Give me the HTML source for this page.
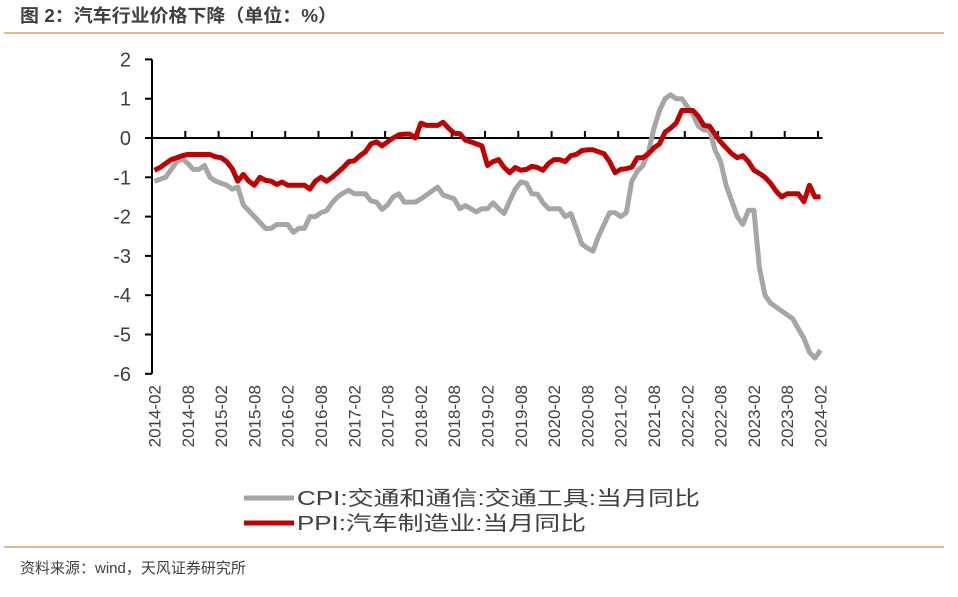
<!DOCTYPE html>
<html><head><meta charset="utf-8"><style>
body{margin:0;background:#fff;width:958px;height:592px;overflow:hidden;font-family:"Liberation Sans","Noto Sans CJK SC",sans-serif}
</style></head><body>
<svg id="chart" width="958" height="592" xmlns="http://www.w3.org/2000/svg">
<text x="20" y="22" font-size="18" font-weight="bold" fill="#404040" textLength="317" lengthAdjust="spacingAndGlyphs" font-family="Liberation Sans, Noto Sans CJK SC, sans-serif">图 2：汽车行业价格下降（单位：%）</text>
<line x1="4" y1="33" x2="944" y2="33" stroke="#d9a06c" stroke-width="1.5"/>
<line x1="4" y1="547" x2="944" y2="547" stroke="#d9a06c" stroke-width="1.5"/>
<text x="20" y="573" font-size="15" fill="#404040" font-family="Liberation Sans, Noto Sans CJK SC, sans-serif">资料来源：wind，天风证券研究所</text>
<g id="axes"></g>
<g id="series"></g>
<g>
<line x1="244" y1="498" x2="294" y2="498" stroke="#a6a6a6" stroke-width="5"/>
<text x="297" y="505" font-size="20" fill="#404040" textLength="403" lengthAdjust="spacingAndGlyphs" font-family="Liberation Sans, Noto Sans CJK SC, sans-serif">CPI:交通和通信:交通工具:当月同比</text>
<line x1="244" y1="523" x2="294" y2="523" stroke="#c00000" stroke-width="5"/>
<text x="297" y="530" font-size="20" fill="#404040" textLength="289" lengthAdjust="spacingAndGlyphs" font-family="Liberation Sans, Noto Sans CJK SC, sans-serif">PPI:汽车制造业:当月同比</text>
</g>
</svg>
<script>
const cpiValues=[-1.1,-1.05,-1.0,-0.8,-0.6,-0.53,-0.65,-0.8,-0.8,-0.7,-1.0,-1.1,-1.15,-1.2,-1.3,-1.25,-1.7,-1.85,-2.0,-2.15,-2.3,-2.3,-2.2,-2.2,-2.2,-2.4,-2.3,-2.3,-2.0,-2.0,-1.9,-1.85,-1.65,-1.5,-1.4,-1.33,-1.42,-1.42,-1.42,-1.6,-1.63,-1.82,-1.7,-1.5,-1.42,-1.63,-1.63,-1.63,-1.55,-1.45,-1.35,-1.25,-1.45,-1.5,-1.55,-1.8,-1.72,-1.8,-1.88,-1.8,-1.8,-1.65,-1.8,-1.92,-1.6,-1.3,-1.12,-1.15,-1.42,-1.43,-1.65,-1.8,-1.8,-1.8,-2.0,-1.92,-2.3,-2.7,-2.8,-2.88,-2.5,-2.2,-1.9,-1.9,-2.0,-1.9,-1.1,-0.85,-0.7,-0.35,0.25,0.7,1.0,1.1,1.0,1.0,0.8,0.6,0.3,0.2,0.2,-0.3,-0.6,-1.2,-1.6,-2.0,-2.2,-1.84,-1.84,-3.3,-4.0,-4.2,-4.3,-4.4,-4.5,-4.6,-4.85,-5.1,-5.45,-5.6,-5.4];
const ppiValues=[-0.82,-0.75,-0.65,-0.55,-0.5,-0.45,-0.42,-0.42,-0.42,-0.42,-0.42,-0.48,-0.5,-0.6,-0.78,-1.1,-0.93,-1.1,-1.2,-1.0,-1.08,-1.1,-1.18,-1.12,-1.2,-1.2,-1.2,-1.2,-1.3,-1.1,-1.0,-1.1,-1.0,-0.88,-0.75,-0.6,-0.58,-0.45,-0.35,-0.15,-0.1,-0.2,-0.1,0.0,0.08,0.1,0.1,0.0,0.38,0.32,0.32,0.32,0.4,0.25,0.12,0.11,-0.05,-0.1,-0.15,-0.2,-0.7,-0.6,-0.55,-0.75,-0.88,-0.75,-0.82,-0.8,-0.72,-0.75,-0.82,-0.65,-0.55,-0.55,-0.6,-0.45,-0.42,-0.32,-0.3,-0.3,-0.35,-0.4,-0.6,-0.88,-0.8,-0.78,-0.74,-0.5,-0.5,-0.4,-0.25,-0.15,0.15,0.25,0.38,0.7,0.7,0.7,0.55,0.32,0.3,0.1,-0.1,-0.25,-0.4,-0.5,-0.45,-0.6,-0.82,-0.9,-1.0,-1.15,-1.35,-1.5,-1.42,-1.42,-1.42,-1.62,-1.2,-1.5,-1.5];
const xTickLabels=["2014-02","2014-08","2015-02","2015-08","2016-02","2016-08","2017-02","2017-08","2018-02","2018-08","2019-02","2019-08","2020-02","2020-08","2021-02","2021-08","2022-02","2022-08","2023-02","2023-08","2024-02"];
const yTickValues=[2,1,0,-1,-2,-3,-4,-5,-6];

const NS="http://www.w3.org/2000/svg";
const x0=154.5, step=5.55, y0=138, unit=39.3;
function xScale(i){return x0+i*step;}
function yScale(v){return y0-v*unit;}
function mk(tag,attrs,parent){const e=document.createElementNS(NS,tag);for(const k in attrs)e.setAttribute(k,attrs[k]);parent.appendChild(e);return e;}
const axes=document.getElementById('axes');
const font="Liberation Sans, Noto Sans CJK SC, sans-serif";
const ya=mk('line',{x1:152,y1:yScale(2),x2:152,y2:yScale(-6),stroke:'#000','stroke-width':2},axes);


yTickValues.forEach(v=>{
  const t=mk('line',{x1:145,y1:yScale(v),x2:152,y2:yScale(v),stroke:'#000','stroke-width':2},axes);
  
  
  const l=mk('text',{x:131,y:yScale(v)+7,'font-size':20,'text-anchor':'end',fill:'#404040','font-family':font},axes);
  l.textContent=v;
  
  
});
const xa=mk('line',{x1:152,y1:y0,x2:xScale(cpiValues.length-1)+2,y2:y0,stroke:'#000','stroke-width':2},axes);


xTickLabels.forEach((lab,k)=>{
  const i=k*6;
  if(k>0){
    const t=mk('line',{x1:xScale(i)-2.5,y1:y0-7,x2:xScale(i)-2.5,y2:y0,stroke:'#000','stroke-width':2},axes);
    
    
  }
  const x=xScale(i)+6, y=385;
  const l=mk('text',{x:x,y:y,'font-size':17,'text-anchor':'end',fill:'#404040','font-family':font,transform:`rotate(-90 ${x} ${y})`},axes);
  l.textContent=lab;
  
  
});
const series=document.getElementById('series');
function pathOf(arr){return arr.map((v,i)=>(i?'L':'M')+xScale(i).toFixed(1)+' '+yScale(v).toFixed(1)).join(' ');}
const p1=mk('path',{d:pathOf(cpiValues),fill:'none',stroke:'#a6a6a6','stroke-width':5,'stroke-linejoin':'round'},series);


const p2=mk('path',{d:pathOf(ppiValues),fill:'none',stroke:'#c00000','stroke-width':5,'stroke-linejoin':'round'},series);


</script>
</body></html>
